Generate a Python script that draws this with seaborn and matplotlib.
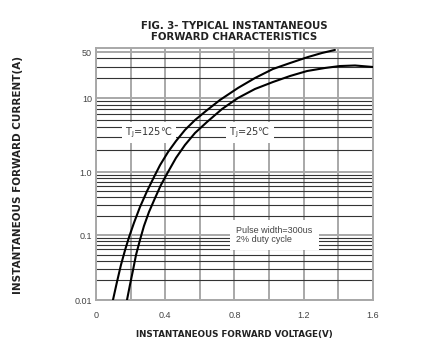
import pandas as pd
import numpy as np
import seaborn as sns
import matplotlib
matplotlib.use("Agg")
import matplotlib.pyplot as plt
from matplotlib.ticker import FixedLocator, NullFormatter

# forward voltage (V) / forward current (A)
vf_125 = [0.098, 0.121, 0.144, 0.168, 0.191, 0.219, 0.254, 0.295, 0.335, 0.370, 0.416, 0.462,
          0.514, 0.572, 0.635, 0.716, 0.820, 0.918, 1.022, 1.121, 1.225, 1.305, 1.380]
if_125 = [0.01, 0.0189, 0.0345, 0.0588, 0.093, 0.155, 0.278, 0.499, 0.833, 1.24, 1.86, 2.62,
          3.70, 5.04, 6.67, 9.4, 14.2, 20.1, 27.6, 34.0, 42.0, 48.3, 53.7]

vf_25 = [0.179, 0.196, 0.214, 0.231, 0.254, 0.277, 0.306, 0.341, 0.375, 0.416, 0.462, 0.514,
         0.572, 0.641, 0.728, 0.820, 0.918, 1.022, 1.121, 1.219, 1.323, 1.409, 1.496, 1.600]
if_25 = [0.01, 0.0170, 0.029, 0.0492, 0.0838, 0.139, 0.232, 0.386, 0.622, 1.0, 1.55, 2.32,
         3.37, 4.74, 7.10, 10.0, 13.7, 17.5, 21.6, 25.7, 28.6, 30.6, 31.2, 29.6]

x_ticks = [0, 0.4, 0.8, 1.2, 1.6]
x_labels = ["0", "0.4", "0.8", "1.2", "1.6"]
y_ticks = [0.01, 0.1, 1.0, 10, 50]
y_labels = ["0.01", "0.1", "1.0", "10", "50"]

sns.set_style("white")
plt.rcParams["font.family"] = ["DejaVu Sans", "Noto Sans CJK SC"]

df125 = pd.DataFrame({"vf": vf_125, "if": if_125})
df25 = pd.DataFrame({"vf": vf_25, "if": if_25})

# the printed chart is a hand-drawn log paper: decades are not all the same height
dec_log = [-3, -2, -1, 0, 1, np.log10(50), 3]
dec_pos = [-65, 0, 65, 128, 202, 248, 248 + 1.301 * 66]


def fwd(v):
    v = np.asarray(v, dtype=float)
    return np.interp(np.log10(np.maximum(v, 1e-300)), dec_log, dec_pos)


def inv(h):
    return 10 ** np.interp(np.asarray(h, dtype=float), dec_pos, dec_log)


fig = plt.figure(figsize=(4.37, 3.54), dpi=100, facecolor="w")
ax = fig.add_axes([96/437, 54/354, 277/437, 252/354])

sns.lineplot(data=df125, x="vf", y="if", sort=False, estimator=None, color="k", lw=1.5, ax=ax, zorder=4)
sns.lineplot(data=df25, x="vf", y="if", sort=False, estimator=None, color="k", lw=1.5, ax=ax, zorder=4)

ax.set_yscale("function", functions=(fwd, inv))
ax.set_xlim(0, 1.6)
ax.set_ylim(0.01, 57.5)

ax.set_xticks(x_ticks)
ax.set_xticklabels(x_labels)
ax.xaxis.set_minor_locator(FixedLocator([0.2, 0.6, 1.0, 1.4]))
ax.set_yticks(y_ticks)
ax.set_yticklabels(y_labels)
minors = [m * 10.0**d for d in range(-2, 2) for m in range(2, 10)]
ax.yaxis.set_minor_locator(FixedLocator([v for v in minors if v < 50]))
ax.yaxis.set_minor_formatter(NullFormatter())

ax.grid(which="major", color="#a8a8a8", lw=1.4)
ax.grid(which="minor", axis="x", color="#a8a8a8", lw=1.4)
ax.grid(which="minor", axis="y", color="#333333", lw=0.8)
ax.set_axisbelow(True)

ax.tick_params(which="both", length=0, labelsize=6.5, labelcolor="#444444")
ax.tick_params(axis="x", pad=8)
ax.tick_params(axis="y", pad=3)
for tl in ax.get_xticklabels() + ax.get_yticklabels():
    tl.set_family("Liberation Sans")
for s in ax.spines.values():
    s.set_color("#a8a8a8")
    s.set_linewidth(1.4)

ax.set_xlabel("")
ax.set_ylabel("")

# labels on the curves
box = dict(facecolor="white", edgecolor="none", boxstyle="square,pad=0.35")
ax.text(0.307, 3.4, "T$_\\mathregular{J}$=125℃", fontsize=7, color="#333333",
        ha="center", va="center", bbox=box, zorder=3)
ax.text(0.887, 3.4, "T$_\\mathregular{J}$=25℃", fontsize=7, color="#333333",
        ha="center", va="center", bbox=box, zorder=3)
ax.text(0.81, 0.1, "Pulse width=300us\n2% duty cycle", fontsize=6.5, color="#444444",
        family="Liberation Sans", ha="left", va="center", linespacing=1.0,
        bbox=dict(facecolor="white", edgecolor="none", boxstyle="square,pad=0.7"), zorder=3)

ax.set_title("FIG. 3- TYPICAL INSTANTANEOUS\nFORWARD CHARACTERISTICS",
             fontsize=7.3, fontweight="bold", color="#222222", pad=6, linespacing=1.05)
fig.text(0.537, 0.054, "INSTANTANEOUS FORWARD VOLTAGE(V)", fontsize=6.3,
         fontweight="bold", color="#222222", ha="center", va="center")
fig.text(0.041, 0.506, "INSTANTANEOUS FORWARD CURRENT(A)", fontsize=7.5,
         fontweight="bold", color="#222222", ha="center", va="center", rotation=90)

fig.savefig("out.png", dpi=100, facecolor="w")
